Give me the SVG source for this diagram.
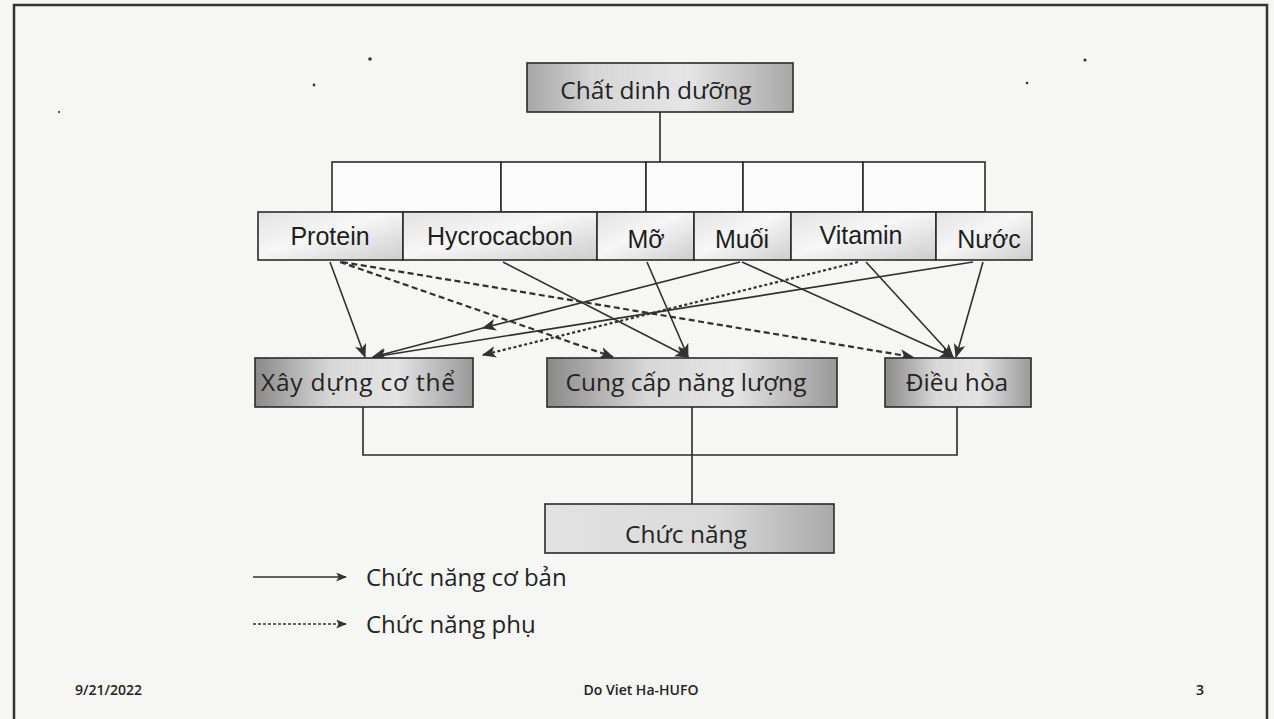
<svg xmlns="http://www.w3.org/2000/svg" width="1274" height="719" viewBox="0 0 1274 719">
  <defs>
    <style>
      .box { stroke: #2b2b2b; stroke-width: 1.6; }
      .blank { fill: #fbfbfb; stroke: #2b2b2b; stroke-width: 1.6; }
      .wire { fill: none; stroke: #2b2b2b; stroke-width: 1.6; }
      .solid { fill: none; stroke: #303030; stroke-width: 1.6; marker-end: url(#ah); }
      .dash { fill: none; stroke: #303030; stroke-width: 2.2; stroke-dasharray: 6 3.5; marker-end: url(#ah); }
      .dot { fill: none; stroke: #303030; stroke-width: 2.2; stroke-dasharray: 3 2.5; marker-end: url(#ah); }
      .lbl { font-family: "Liberation Sans", Arial, sans-serif; font-size: 25px; fill: #1e1e1e; text-anchor: middle; }
      .hum { font-family: "Open Sans", "Noto Sans", sans-serif; font-size: 24.5px; fill: #242424; text-anchor: middle; }
      .leg { font-family: "Open Sans", "Noto Sans", sans-serif; font-size: 24px; fill: #242424; }
      .foot { font-family: "Open Sans", "Noto Sans", sans-serif; font-size: 14px; font-weight: 600; fill: #222; }
      .speck { fill: #333; }
    </style>
    <linearGradient id="gTop" x1="0" y1="0" x2="1" y2="0">
      <stop offset="0" stop-color="#a6a6a6"/>
      <stop offset="0.25" stop-color="#d6d6d6"/>
      <stop offset="0.6" stop-color="#e6e6e6"/>
      <stop offset="1" stop-color="#a8a8a8"/>
    </linearGradient>
    <linearGradient id="gItem" x1="0" y1="0" x2="1" y2="1">
      <stop offset="0" stop-color="#e2e2e2"/>
      <stop offset="0.45" stop-color="#f7f7f7"/>
      <stop offset="1" stop-color="#cdcdcd"/>
    </linearGradient>
    <linearGradient id="gFn" x1="0" y1="0" x2="1" y2="0">
      <stop offset="0" stop-color="#8a8a8a"/>
      <stop offset="0.35" stop-color="#d8d8d8"/>
      <stop offset="0.65" stop-color="#e4e4e4"/>
      <stop offset="1" stop-color="#999999"/>
    </linearGradient>
    <linearGradient id="gBase" x1="0" y1="0" x2="1" y2="0">
      <stop offset="0" stop-color="#e2e2e2"/>
      <stop offset="0.6" stop-color="#dadada"/>
      <stop offset="1" stop-color="#a9a9a9"/>
    </linearGradient>
    <marker id="ah" viewBox="0 0 12 10" refX="11" refY="5" markerWidth="14" markerHeight="12" markerUnits="userSpaceOnUse" orient="auto">
      <path d="M0,0 L12,5 L0,10 L3,5 z" fill="#333"/>
    </marker>
    <marker id="ahs" viewBox="0 0 12 10" refX="11" refY="5" markerWidth="11" markerHeight="9" markerUnits="userSpaceOnUse" orient="auto">
      <path d="M0,0 L12,5 L0,10 L3,5 z" fill="#333"/>
    </marker>
  </defs>

  <!-- page -->
  <rect x="0" y="0" width="1274" height="719" fill="#f6f6f4"/>
  <rect x="14" y="5" width="1253" height="730" fill="none" stroke="#333" stroke-width="2.5"/>
  <g id="specks">
    <circle class="speck" cx="370" cy="59" r="1.8"/>
    <circle class="speck" cx="314" cy="85" r="1.4"/>
    <circle class="speck" cx="59" cy="112" r="1.1"/>
    <circle class="speck" cx="1085" cy="60" r="1.6"/>
    <circle class="speck" cx="1027" cy="83" r="1.3"/>
  </g>

  <!-- tree wiring -->
  <g id="connectors">
    <line class="wire" x1="660" y1="112" x2="660" y2="162"/>
    <g id="bracket">
      <rect class="blank" x="332" y="162" width="169" height="50"/>
      <rect class="blank" x="501" y="162" width="145" height="50"/>
      <rect class="blank" x="646" y="162" width="97" height="50"/>
      <rect class="blank" x="743" y="162" width="120" height="50"/>
      <rect class="blank" x="863" y="162" width="122" height="50"/>
    </g>
    <path class="wire" d="M363,407 V455 H957 V407 M692,407 V504"/>

    <!-- basic functions -->
    <path class="solid" d="M330,262 L365,357"/>
    <path class="solid" d="M740,262 L483,328 L373,357" marker-mid="url(#ah)"/>
    <path class="solid" d="M973,262 L373,357"/>
    <path class="solid" d="M503,262 L688,357"/>
    <path class="solid" d="M647,262 L688,357"/>
    <path class="solid" d="M742,262 L953,357"/>
    <path class="solid" d="M866,262 L953,357"/>
    <path class="solid" d="M983,262 L956,357"/>

    <!-- secondary functions -->
    <path class="dash" d="M340,262 L613,357"/>
    <path class="dash" d="M342,262 L913,357"/>
    <path class="dot" d="M858,262 L483,355"/>
  </g>

  <g id="n-chat">
    <rect class="box" x="527" y="63" width="266" height="49" fill="url(#gTop)"/>
    <text class="hum" x="656" y="99">Chất dinh dưỡng</text>
  </g>

  <g id="n-protein">
    <rect class="box" x="258" y="212" width="145" height="48" fill="url(#gItem)"/>
    <text class="lbl" x="330" y="245">Protein</text>
  </g>
  <g id="n-hycrocacbon">
    <rect class="box" x="403" y="212" width="194" height="48" fill="url(#gItem)"/>
    <text class="lbl" x="500" y="245">Hycrocacbon</text>
  </g>
  <g id="n-mo">
    <rect class="box" x="597" y="212" width="97" height="48" fill="url(#gItem)"/>
    <text class="lbl" x="646" y="248">Mỡ</text>
  </g>
  <g id="n-muoi">
    <rect class="box" x="694" y="212" width="97" height="48" fill="url(#gItem)"/>
    <text class="lbl" x="742" y="248">Muối</text>
  </g>
  <g id="n-vitamin">
    <rect class="box" x="791" y="212" width="145" height="48" fill="url(#gItem)"/>
    <text class="lbl" x="861" y="244">Vitamin</text>
  </g>
  <g id="n-nuoc">
    <rect class="box" x="936" y="212" width="96" height="48" fill="url(#gItem)"/>
    <text class="lbl" x="989" y="248">Nước</text>
  </g>

  <g id="n-xaydung">
    <rect class="box" x="255" y="358" width="218" height="49" fill="url(#gFn)"/>
    <text class="hum" x="358" y="391" textLength="194" lengthAdjust="spacing">Xây dựng cơ thể</text>
  </g>
  <g id="n-cungcap">
    <rect class="box" x="547" y="358" width="290" height="49" fill="url(#gFn)"/>
    <text class="hum" x="686" y="391">Cung cấp năng lượng</text>
  </g>
  <g id="n-dieuhoa">
    <rect class="box" x="885" y="358" width="146" height="49" fill="url(#gFn)"/>
    <text class="hum" x="957" y="391">Điều hòa</text>
  </g>

  <g id="n-chucnang">
    <rect class="box" x="545" y="504" width="289" height="49" fill="url(#gBase)"/>
    <text class="hum" x="686" y="543">Chức năng</text>
  </g>

  <g id="legend">
    <line x1="253" y1="577" x2="346" y2="577" stroke="#303030" stroke-width="1.6" marker-end="url(#ahs)"/>
    <text class="leg" x="366" y="586">Chức năng cơ bản</text>
    <line x1="253" y1="624" x2="346" y2="624" stroke="#303030" stroke-width="1.6" stroke-dasharray="3 2" marker-end="url(#ahs)"/>
    <text class="leg" x="366" y="633">Chức năng phụ</text>
  </g>

  <g id="footer">
    <text class="foot" x="75" y="695">9/21/2022</text>
    <text class="foot" x="641" y="695" text-anchor="middle">Do Viet Ha-HUFO</text>
    <text class="foot" x="1196" y="695">3</text>
  </g>
</svg>
